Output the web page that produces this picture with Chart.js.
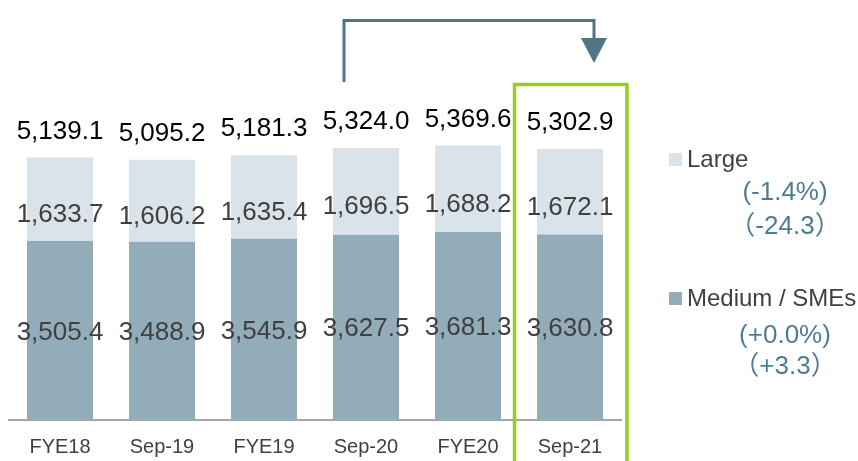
<!DOCTYPE html>
<html>
<head>
<meta charset="utf-8">
<script src="https://cdn.jsdelivr.net/npm/chart.js@4"></script>
<style>
  html, body { margin: 0; padding: 0; background: #fff; }
  canvas { display: block; }
</style>
</head>
<body>
<canvas id="loanChart" width="858" height="461"></canvas>
<script>
// periods on the x axis
const categories = ['FYE18', 'Sep-19', 'FYE19', 'Sep-20', 'FYE20', 'Sep-21'];
// stacked segments
const mediumSmes = [3505.4, 3488.9, 3545.9, 3627.5, 3681.3, 3630.8];
const large = [1633.7, 1606.2, 1635.4, 1696.5, 1688.2, 1672.1];
// totals as printed above the bars
const totals = [5139.1, 5095.2, 5181.3, 5324.0, 5369.6, 5302.9];
// change notes next to the legend (Sep-21 vs Sep-20)
const largeChange = ['(-1.4%)', '（-24.3）'];
const mediumChange = ['(+0.0%)', '（+3.3）'];

const FONT = '"Liberation Sans", Arial, "Noto Sans CJK JP", sans-serif';
const fmt = v => v.toLocaleString('en-US', { minimumFractionDigits: 1, maximumFractionDigits: 1 });

const labelPlugin = {
    id: 'labels',
    afterDatasetsDraw(chart) {
        const ctx = chart.ctx;
        const x = chart.scales.x;
        const medMeta = chart.getDatasetMeta(0);
        const lrgMeta = chart.getDatasetMeta(1);
        ctx.save();
        ctx.textAlign = 'center';
        ctx.textBaseline = 'middle';
        ctx.font = '26px ' + FONT;

        medMeta.data.forEach((bar, i) => {
            ctx.fillStyle = '#404040';
            ctx.fillText(fmt(mediumSmes[i]), bar.x, (bar.y + bar.base) / 2 + 2);
        });
        lrgMeta.data.forEach((bar, i) => {
            ctx.fillStyle = '#404040';
            ctx.fillText(fmt(large[i]), bar.x, (bar.y + bar.base) / 2 + 16);
            ctx.fillStyle = '#000000';
            ctx.fillText(fmt(totals[i]), bar.x, bar.y - 26);
        });

        // highlight box round the latest period
        const last = x.getPixelForValue(categories.length - 1);
        ctx.strokeStyle = '#9BCB1C';
        ctx.lineWidth = 3.5;
        ctx.strokeRect(last - 55.5, 84.5, 112.5, 400);

        // arrow from Sep-20 to Sep-21
        const from = x.getPixelForValue(3) - 22;
        const to = last + 24;
        ctx.strokeStyle = '#527585';
        ctx.lineWidth = 3;
        ctx.beginPath();
        ctx.moveTo(from, 82);
        ctx.lineTo(from, 20.5);
        ctx.lineTo(to, 20.5);
        ctx.lineTo(to, 40);
        ctx.stroke();
        ctx.fillStyle = '#527585';
        ctx.beginPath();
        ctx.moveTo(to - 13, 38);
        ctx.lineTo(to + 13, 38);
        ctx.lineTo(to, 63);
        ctx.closePath();
        ctx.fill();

        // legend with the change notes
        const legend = [
            { ds: 1, y: 160, notes: largeChange, ny: [193, 227] },
            { ds: 0, y: 299, notes: mediumChange, ny: [336, 367] }
        ];
        legend.forEach(item => {
            const ds = chart.data.datasets[item.ds];
            ctx.fillStyle = ds.backgroundColor;
            ctx.fillRect(669, item.y - 7, 13, 13);
            ctx.textAlign = 'left';
            ctx.fillStyle = '#404040';
            ctx.font = '24px ' + FONT;
            ctx.fillText(ds.label, 687, item.y);
            ctx.textAlign = 'center';
            ctx.fillStyle = '#4E7D93';
            ctx.font = '26px ' + FONT;
            item.notes.forEach((t, k) => ctx.fillText(t, 785, item.ny[k]));
        });
        ctx.restore();
    }
};

new Chart(document.getElementById('loanChart'), {
    type: 'bar',
    data: {
        labels: categories,
        datasets: [
            {
                label: 'Medium / SMEs',
                data: mediumSmes,
                backgroundColor: '#92ACBA',
                categoryPercentage: 1,
                barPercentage: 0.647
            },
            {
                label: 'Large',
                data: large,
                backgroundColor: '#DAE3E9',
                categoryPercentage: 1,
                barPercentage: 0.647
            }
        ]
    },
    options: {
        responsive: false,
        animation: false,
        layout: { padding: { left: 9, right: 237, top: 90, bottom: 0 } },
        plugins: {
            legend: { display: false },
            tooltip: { enabled: false }
        },
        scales: {
            x: {
                stacked: true,
                grid: { display: false, drawTicks: false },
                border: { display: true, color: '#A6A6A6', width: 2 },
                ticks: {
                    color: '#404040',
                    padding: 15,
                    font: { family: FONT, size: 20 }
                },
                afterFit: scale => { scale.height = 41; }
            },
            y: {
                stacked: true,
                display: false,
                min: 0,
                max: 6458
            }
        }
    },
    plugins: [labelPlugin]
});
</script>
</body>
</html>
